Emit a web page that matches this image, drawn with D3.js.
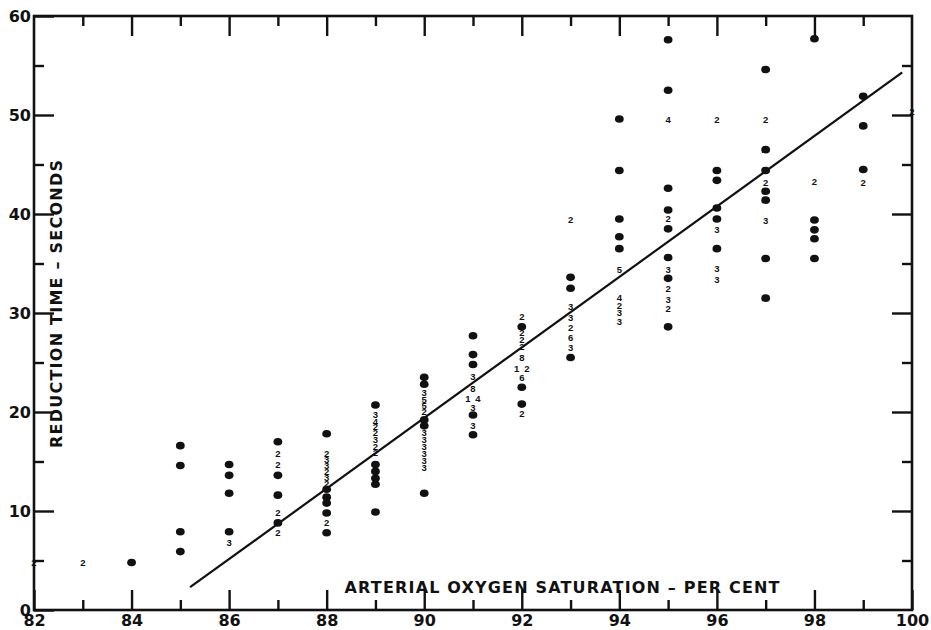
<!DOCTYPE html>
<html>
<head>
<meta charset="utf-8">
<script src="https://cdn.jsdelivr.net/npm/d3@7"></script>
<style>
  body { margin: 0; background: #fff; }
  svg { display: block; }
  .tick text { font-family: "DejaVu Sans", sans-serif; font-weight: bold; font-size: 16px; fill: #111; }
  .tick line { stroke: #111; stroke-width: 2.4; }
  .count { font-family: "Liberation Sans", sans-serif; font-weight: bold; font-size: 9.5px; fill: #111; white-space: pre; }
  .title { font-family: "DejaVu Sans", sans-serif; font-weight: bold; font-size: 16px; fill: #111; }
</style>
</head>
<body>
<svg id="chart" width="931" height="630"></svg>
<script>
// axis ticks
const xMajor = [82, 84, 86, 88, 90, 92, 94, 96, 98, 100];
const xMinor = [83, 85, 87, 89, 91, 93, 95, 97, 99];
const yMajor = [0, 10, 20, 30, 40, 50, 60];
const yMinor = [5, 15, 25, 35, 45, 55];

// one entry per saturation column; "" = single dot, otherwise the printed count
const saturation = [82, 83, 84, 85, 86, 87, 88, 89, 90, 91, 92, 93, 94, 95, 96, 97, 98, 99, 100];
const seconds = [
  [4.8],
  [4.8],
  [4.8],
  [16.6, 14.6, 7.9, 5.9],
  [14.7, 13.6, 11.8, 7.9, 6.8],
  [17.0, 15.8, 14.7, 13.6, 11.6, 9.8, 8.8, 7.8],
  [17.8, 15.8, 15.2, 14.6, 14.0, 13.4, 12.8, 12.2, 11.4, 10.8, 9.8, 8.8, 7.8],
  [20.7, 19.7, 19.0, 18.5, 17.9, 17.2, 16.5, 15.9, 14.7, 14.0, 13.3, 12.7, 9.9],
  [23.5, 22.8, 22.0, 21.3, 20.6, 20.0, 19.2, 18.6, 17.9, 17.2, 16.5, 15.8, 15.1, 14.4, 11.8],
  [27.7, 25.8, 24.8, 23.6, 22.4, 21.4, 20.4, 19.7, 18.6, 17.7],
  [29.6, 28.6, 28.0, 27.3, 26.6, 25.5, 24.4, 23.5, 22.5, 20.8, 19.8],
  [39.4, 33.6, 32.5, 30.6, 29.5, 28.5, 27.5, 26.5, 25.5],
  [49.6, 44.4, 39.5, 37.7, 36.5, 34.4, 31.6, 30.8, 30.0, 29.1],
  [57.6, 52.5, 49.5, 42.6, 40.4, 39.5, 38.5, 35.6, 34.4, 33.5, 32.5, 31.4, 30.4, 28.6],
  [49.5, 44.4, 43.4, 40.6, 39.5, 38.4, 36.5, 34.5, 33.4],
  [54.6, 49.5, 46.5, 44.4, 43.2, 42.3, 41.4, 39.3, 35.5, 31.5],
  [57.7, 43.3, 39.4, 38.4, 37.5, 35.5],
  [51.9, 48.9, 44.5, 43.2],
  [50.3]
];
const counts = [
  ["2"],
  ["2"],
  [""],
  ["", "", "", ""],
  ["", "", "", "", "3"],
  ["", "2", "2", "", "", "2", "", "2"],
  ["", "2", "3", "3", "2", "3", "2", "", "", "", "", "2", ""],
  ["", "3", "4", "2", "2", "3", "2", "2", "", "", "", "", ""],
  ["", "", "3", "5", "5", "2", "", "", "3", "3", "3", "3", "3", "3", ""],
  ["", "", "", "3", "8", "1\u20024", "3", "", "3", ""],
  ["2", "", "2", "2", "2", "8", "1\u20022", "6", "", "", "2"],
  ["2", "", "", "3", "3", "2", "6", "3", ""],
  ["", "", "", "", "", "5", "4", "2", "3", "3"],
  ["", "", "4", "", "", "2", "", "", "3", "", "2", "3", "2", ""],
  ["2", "", "", "", "", "3", "", "3", "3"],
  ["", "2", "", "", "2", "", "", "3", "", ""],
  ["", "2", "", "", "", ""],
  ["", "", "", "2"],
  ["2"]
];

// fitted line end points
const lineSat = [85.2, 99.8];
const lineSec = [2.3, 54.3];

const svg = d3.select("#chart");
const x = d3.scaleLinear().domain([82, 100]).range([34, 912]);
const y = d3.scaleLinear().domain([0, 60]).range([610, 16]);

// frame
svg.append("rect")
  .attr("x", x(82)).attr("y", y(60))
  .attr("width", x(100) - x(82)).attr("height", y(0) - y(60))
  .attr("fill", "none").attr("stroke", "#111").attr("stroke-width", 2.6);

function addAxis(axis, tx, ty, noLabels) {
  const g = svg.append("g").attr("transform", `translate(${tx},${ty})`).call(axis);
  g.select(".domain").remove();
  if (noLabels) g.selectAll("text").remove();
  return g;
}

addAxis(d3.axisBottom(x).tickValues(xMajor).tickSizeInner(-20).tickSizeOuter(0).tickPadding(5).tickFormat(d3.format("d")), 0, y(0));
addAxis(d3.axisBottom(x).tickValues(xMinor).tickSizeInner(-10).tickSizeOuter(0), 0, y(0), true);
addAxis(d3.axisTop(x).tickValues(xMajor.slice(1, -1)).tickSizeInner(-20).tickSizeOuter(0), 0, y(60), true);
addAxis(d3.axisTop(x).tickValues(xMinor).tickSizeInner(-10).tickSizeOuter(0), 0, y(60), true);
addAxis(d3.axisLeft(y).tickValues(yMajor).tickSizeInner(-20).tickSizeOuter(0).tickPadding(3), x(82), 0);
addAxis(d3.axisLeft(y).tickValues(yMinor).tickSizeInner(-10).tickSizeOuter(0), x(82), 0, true);
addAxis(d3.axisRight(y).tickValues(yMajor.slice(1, -1)).tickSizeInner(-20).tickSizeOuter(0), x(100), 0, true);
addAxis(d3.axisRight(y).tickValues(yMinor).tickSizeInner(-10).tickSizeOuter(0), x(100), 0, true);

// regression line
svg.append("path")
  .datum(lineSat.map((s, i) => [s, lineSec[i]]))
  .attr("d", d3.line().x(d => x(d[0])).y(d => y(d[1])))
  .attr("fill", "none").attr("stroke", "#111").attr("stroke-width", 2.2);

// observations
const points = [];
saturation.forEach((s, i) => {
  seconds[i].forEach((t, j) => points.push({ s, t, n: counts[i][j] }));
});

svg.append("g").selectAll("ellipse")
  .data(points.filter(d => d.n === ""))
  .enter().append("ellipse")
  .attr("cx", d => x(d.s)).attr("cy", d => y(d.t))
  .attr("rx", 4.4).attr("ry", 3.8)
  .attr("fill", "#111");

svg.append("g").selectAll("text")
  .data(points.filter(d => d.n !== ""))
  .enter().append("text")
  .attr("class", "count")
  .attr("x", d => x(d.s)).attr("y", d => y(d.t))
  .attr("dy", "0.36em")
  .attr("text-anchor", "middle")
  .text(d => d.n);

// axis titles
svg.append("text")
  .attr("class", "title")
  .attr("x", 562).attr("y", 593)
  .attr("text-anchor", "middle")
  .attr("textLength", 435).attr("lengthAdjust", "spacing")
  .text("ARTERIAL OXYGEN SATURATION \u2013 PER CENT");

svg.append("text")
  .attr("class", "title")
  .attr("transform", "translate(62,304) rotate(-90)")
  .attr("text-anchor", "middle")
  .attr("textLength", 288).attr("lengthAdjust", "spacing")
  .text("REDUCTION TIME \u2013 SECONDS");
</script>
</body>
</html>
